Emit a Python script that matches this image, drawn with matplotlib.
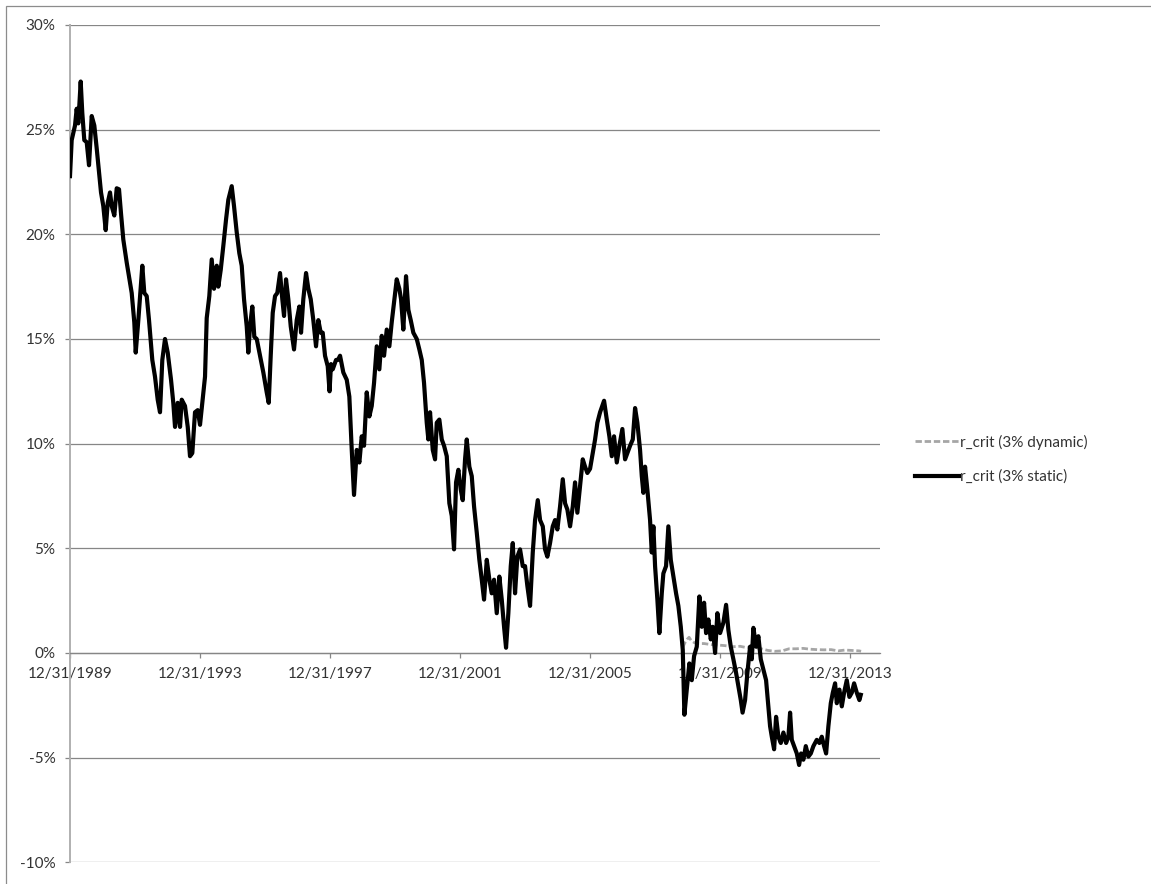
import matplotlib
matplotlib.use("Agg")
import matplotlib.pyplot as plt
from matplotlib.patches import Rectangle
import numpy as np

# ---------------- data (decimal years, values in %) ----------------
static_years = [
    1990.000, 1990.052, 1990.154, 1990.206, 1990.255, 1990.329, 1990.378, 1990.440, 1990.514, 1990.585,
    1990.668, 1990.748, 1990.822, 1990.871, 1990.954, 1991.025, 1991.098, 1991.160, 1991.231, 1991.283,
    1991.363, 1991.437, 1991.508, 1991.569, 1991.640, 1991.745, 1991.815, 1991.898, 1991.978, 1992.022,
    1992.102, 1992.225, 1992.286, 1992.360, 1992.431, 1992.532, 1992.615, 1992.698, 1992.769, 1992.840,
    1992.923, 1993.006, 1993.108, 1993.178, 1993.231, 1993.314, 1993.385, 1993.437, 1993.538, 1993.622,
    1993.692, 1993.763, 1993.846, 1993.929, 1994.000, 1994.071, 1994.154, 1994.206, 1994.286, 1994.360,
    1994.431, 1994.514, 1994.563, 1994.637, 1994.717, 1994.800, 1994.871, 1994.975, 1995.046, 1995.129,
    1995.209, 1995.283, 1995.354, 1995.437, 1995.486, 1995.538, 1995.609, 1995.671, 1995.745, 1995.846,
    1995.948, 1996.052, 1996.114, 1996.175, 1996.237, 1996.308, 1996.378, 1996.462, 1996.532, 1996.585,
    1996.646, 1996.717, 1996.791, 1996.892, 1996.975, 1997.055, 1997.108, 1997.178, 1997.262, 1997.332,
    1997.406, 1997.486, 1997.569, 1997.640, 1997.714, 1997.775, 1997.846, 1997.929, 1997.985, 1998.030,
    1998.083, 1998.185, 1998.246, 1998.308, 1998.409, 1998.514, 1998.594, 1998.668, 1998.738, 1998.822,
    1998.902, 1998.975, 1999.046, 1999.129, 1999.209, 1999.283, 1999.354, 1999.437, 1999.517, 1999.591,
    1999.662, 1999.745, 1999.825, 1999.898, 1999.969, 2000.052, 2000.132, 2000.185, 2000.255, 2000.338,
    2000.409, 2000.483, 2000.563, 2000.668, 2000.748, 2000.822, 2000.892, 2000.975, 2001.025, 2001.077,
    2001.160, 2001.231, 2001.283, 2001.363, 2001.437, 2001.508, 2001.591, 2001.671, 2001.745, 2001.815,
    2001.877, 2001.948, 2002.022, 2002.083, 2002.154, 2002.206, 2002.286, 2002.360, 2002.431, 2002.514,
    2002.594, 2002.668, 2002.738, 2002.822, 2002.902, 2002.975, 2003.046, 2003.129, 2003.209, 2003.283,
    2003.354, 2003.415, 2003.486, 2003.560, 2003.622, 2003.692, 2003.763, 2003.846, 2003.929, 2004.000,
    2004.071, 2004.154, 2004.237, 2004.308, 2004.391, 2004.462, 2004.545, 2004.615, 2004.686, 2004.769,
    2004.852, 2004.923, 2004.994, 2005.077, 2005.160, 2005.231, 2005.302, 2005.385, 2005.468, 2005.538,
    2005.609, 2005.692, 2005.775, 2005.846, 2005.917, 2006.000, 2006.083, 2006.154, 2006.225, 2006.308,
    2006.431, 2006.514, 2006.594, 2006.668, 2006.738, 2006.822, 2006.902, 2006.994, 2007.077, 2007.148,
    2007.231, 2007.314, 2007.385, 2007.455, 2007.538, 2007.591, 2007.640, 2007.692, 2007.763, 2007.846,
    2007.898, 2007.948, 2008.000, 2008.071, 2008.132, 2008.206, 2008.255, 2008.338, 2008.409, 2008.483,
    2008.563, 2008.646, 2008.717, 2008.791, 2008.852, 2008.902, 2008.975, 2009.055, 2009.129, 2009.200,
    2009.283, 2009.363, 2009.437, 2009.508, 2009.569, 2009.640, 2009.714, 2009.775, 2009.846, 2009.917,
    2010.000, 2010.102, 2010.185, 2010.255, 2010.329, 2010.409, 2010.492, 2010.563, 2010.637, 2010.692,
    2010.769, 2010.840, 2010.923, 2010.975, 2011.025, 2011.108, 2011.178, 2011.252, 2011.332, 2011.415,
    2011.486, 2011.538, 2011.591, 2011.662, 2011.723, 2011.794, 2011.868, 2011.948, 2012.031, 2012.102,
    2012.154, 2012.206, 2012.277, 2012.360, 2012.431, 2012.492, 2012.563, 2012.637, 2012.717, 2012.791,
    2012.871, 2012.975, 2013.055, 2013.129, 2013.200, 2013.262, 2013.332, 2013.406, 2013.468, 2013.538,
    2013.591, 2013.671, 2013.745, 2013.815, 2013.898, 2013.978, 2014.052, 2014.123, 2014.206, 2014.286,
    2014.329,
]
static_values = [
    22.78, 24.50, 25.20, 26.00, 25.30, 27.30, 25.80, 24.50, 24.40, 23.30,
    25.65, 25.20, 24.10, 23.30, 22.00, 21.35, 20.20, 21.50, 22.00, 21.35,
    20.90, 22.20, 22.15, 21.00, 19.75, 18.65, 18.00, 17.20, 15.80, 14.35,
    15.90, 18.50, 17.20, 17.05, 15.90, 14.00, 13.20, 12.10, 11.50, 14.00,
    15.00, 14.35, 13.05, 11.95, 10.80, 11.95, 10.80, 12.10, 11.80, 10.80,
    9.40, 9.55, 11.50, 11.60, 10.90, 11.95, 13.20, 16.00, 17.05, 18.80,
    17.40, 18.50, 17.50, 18.30, 19.45, 20.70, 21.65, 22.30, 21.35, 20.10,
    19.10, 18.50, 16.90, 15.60, 14.35, 15.60, 16.55, 15.10, 15.00, 14.20,
    13.40, 12.45, 11.95, 14.20, 16.25, 17.05, 17.20, 18.15, 16.90, 16.10,
    17.85, 16.90, 15.60, 14.50, 15.90, 16.55, 15.30, 16.90, 18.15, 17.40,
    16.90, 15.90, 14.65, 15.90, 15.30, 15.30, 14.20, 13.70, 12.50, 13.80,
    13.55, 14.00, 14.00, 14.20, 13.40, 13.05, 12.25, 9.70, 7.55, 9.70,
    9.10, 10.35, 9.90, 12.45, 11.30, 11.80, 12.90, 14.65, 13.55, 15.15,
    14.20, 15.45, 14.65, 15.80, 16.75, 17.85, 17.40, 16.90, 15.45, 18.00,
    16.40, 15.90, 15.30, 15.00, 14.50, 14.00, 12.90, 11.00, 10.20, 11.50,
    9.70, 9.25, 11.00, 11.15, 10.20, 9.90, 9.40, 7.15, 6.55, 4.95,
    8.15, 8.75, 7.80, 7.30, 9.25, 10.20, 8.90, 8.45, 7.00, 5.75,
    4.45, 3.50, 2.55, 4.45, 3.50, 2.85, 3.50, 1.90, 3.65, 2.55,
    1.25, 0.25, 1.90, 4.15, 5.25, 2.85, 4.60, 4.95, 4.15, 4.15,
    3.20, 2.25, 4.80, 6.35, 7.30, 6.35, 6.05, 4.95, 4.60, 5.25,
    6.05, 6.35, 5.90, 7.00, 8.30, 7.15, 6.85, 6.05, 7.00, 8.15,
    6.70, 7.95, 9.25, 8.90, 8.60, 8.80, 9.55, 10.20, 11.00, 11.50,
    12.05, 11.15, 10.35, 9.40, 10.35, 9.10, 9.90, 10.70, 9.25, 9.55,
    9.90, 10.20, 11.70, 11.00, 9.70, 8.45, 7.65, 8.90, 7.80, 6.35,
    4.80, 6.05, 4.15, 2.55, 0.95, 2.85, 3.80, 4.15, 6.05, 4.45,
    3.65, 2.85, 2.25, 1.25, 0.15, -2.95, -1.75, -0.50, -1.30, -0.15,
    0.30, 2.70, 1.25, 2.40, 0.95, 1.60, 0.65, 1.25, 0.00, 1.90,
    0.95, 1.45, 2.30, 1.10, 0.30, -0.30, -0.95, -1.60, -2.25, -2.85,
    -2.25, -0.95, 0.30, -0.30, 1.20, 0.30, 0.80, -0.30, -0.80, -1.30,
    -2.55, -3.50, -4.00, -4.60, -3.05, -4.00, -4.30, -3.80, -4.30, -4.00,
    -2.85, -4.15, -4.45, -4.80, -5.35, -4.80, -5.10, -4.45, -4.95, -4.80,
    -4.45, -4.15, -4.30, -4.00, -4.45, -4.80, -3.50, -2.40, -1.90, -1.45,
    -2.40, -1.75, -2.55, -1.90, -1.30, -2.10, -1.90, -1.45, -1.90, -2.25,
    -2.00,
]

# dynamic series: coincides with the static one until late 2008, then stays near zero
dynamic_split_year = 2008.852
dynamic_tail_years = [
    2008.862, 2008.923, 2008.985, 2009.046, 2009.108, 2009.200, 2009.292, 2009.508, 2009.723, 2009.938,
    2010.154, 2010.409, 2010.615, 2010.831, 2011.046, 2011.262, 2011.477, 2011.692, 2011.908, 2012.123,
    2012.338, 2012.554, 2012.769, 2012.985, 2013.200, 2013.415, 2013.631, 2013.846, 2014.062, 2014.277,
    2014.338,
]
dynamic_tail_values = [
    0.30, 0.50, 0.65, 0.75, 0.60, 0.50, 0.45, 0.45, 0.40, 0.38,
    0.35, 0.30, 0.32, 0.25, 0.28, 0.20, 0.12, 0.08, 0.10, 0.20,
    0.20, 0.22, 0.18, 0.16, 0.15, 0.16, 0.10, 0.14, 0.12, 0.10,
    0.08,
]

tick_years = [1990, 1994, 1998, 2002, 2006, 2010, 2014]
tick_labels = ["12/31/1989", "12/31/1993", "12/31/1997", "12/31/2001",
               "12/31/2005", "12/31/2009", "12/31/2013"]
y_ticks = [-10, -5, 0, 5, 10, 15, 20, 25, 30]
y_tick_labels = ["-10%", "-5%", "0%", "5%", "10%", "15%", "20%", "25%", "30%"]

series_names = ["r_crit (3% dynamic)", "r_crit (3% static)"]

# ---------------- figure ----------------
plt.rcParams["font.family"] = ["Lato", "DejaVu Sans"]
plt.rcParams["axes.unicode_minus"] = False

W, H = 1151, 884
fig = plt.figure(figsize=(W / 100, H / 100), dpi=100)
fig.patch.set_facecolor("white")

# outer chart-area border (only top/left edges are visible in the reference)
fig.patches.append(Rectangle((6 / W, -0.1), 2.0, 1.1 - 6 / H, fill=False,
                             edgecolor="#8c8c8c", lw=0.9, transform=fig.transFigure))

left, right = 70 / W, 880 / W
top, bottom = 1 - 25 / H, 1 - 862.3 / H
ax = fig.add_axes([left, bottom, right - left, top - bottom])

sy = np.array(static_years)
sv = np.array(static_values)
mask = sy <= dynamic_split_year
dyn_years = np.concatenate([sy[mask], dynamic_tail_years])
dyn_values = np.concatenate([sv[mask], dynamic_tail_values])

grid_c = "#868686"
ax.plot(dyn_years, dyn_values, color="#a6a6a6", lw=2.0, dashes=(2.3, 1.0),
        label=series_names[0], zorder=3)
ax.plot(sy, sv, color="black", lw=3.0, label=series_names[1], zorder=4,
        solid_joinstyle="round")

ax.set_xlim(1990.0, 2014.92)
ax.set_ylim(-10, 30)

ax.set_yticks(y_ticks)
ax.set_yticklabels(y_tick_labels)
ax.set_xticks(tick_years)
ax.set_xticklabels(tick_labels)

for sp in ["top", "right"]:
    ax.spines[sp].set_visible(False)
ax.spines["bottom"].set_position(("data", 0))
ax.spines["bottom"].set_color(grid_c)
ax.spines["bottom"].set_linewidth(0.9)
ax.spines["left"].set_color("#b0b0b0")
ax.spines["left"].set_linewidth(1.4)

ax.yaxis.grid(True, color=grid_c, lw=0.9)
ax.set_axisbelow(True)
ax.tick_params(axis="y", direction="out", length=3.6, width=0.9, color=grid_c,
               labelsize=11, labelcolor="#333333", pad=7)
ax.tick_params(axis="x", direction="out", length=3.6, width=0.9, color=grid_c,
               labelsize=11, labelcolor="#333333", pad=6.5)
for lab in ax.get_yticklabels() + ax.get_xticklabels():
    lab.set_clip_on(False)

leg = fig.legend(loc="center left", bbox_to_anchor=(915 / W, 1 - 459.4 / H),
                 frameon=False, fontsize=11, handlelength=2.85, handletextpad=0.12,
                 labelspacing=1.3, borderpad=0, borderaxespad=0)
for t in leg.get_texts():
    t.set_color("#333333")

fig.savefig("out.png", dpi=100, facecolor="white")
